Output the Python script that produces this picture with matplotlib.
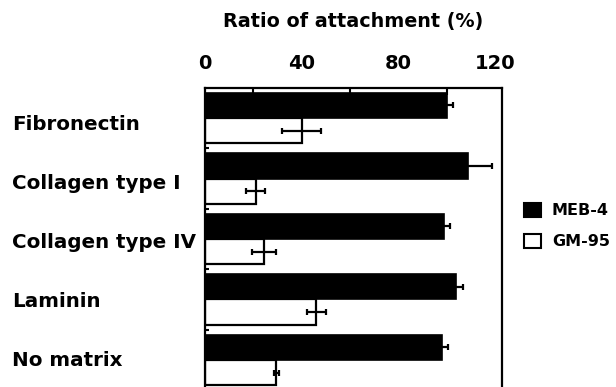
import numpy as np
import matplotlib.pyplot as plt
from matplotlib.patches import Patch

plt.rcParams['font.family'] = ['DejaVu Sans']
plt.rcParams['font.weight'] = 'bold'

categories = ['Fibronectin', 'Collagen type I', 'Collagen type IV', 'Laminin', 'No matrix']
meb4 = [100, 109, 99, 104, 98]
meb4_err = [2.5, 10, 2.5, 3, 2.5]
gm95 = [40, 21, 24.5, 46, 29.5]
gm95_err = [8, 4, 5, 4, 1]

fig = plt.figure(figsize=(6.16, 3.87), dpi=100)
ax = fig.add_axes([0.333, -0.005, 0.482, 0.778])

y = np.arange(len(categories))
h = 0.42
ax.barh(y - h / 2, meb4, height=h, color='black', edgecolor='black', linewidth=1.2,
        xerr=meb4_err, error_kw=dict(ecolor='black', elinewidth=1.6, capsize=2, capthick=1.6))
ax.barh(y + h / 2, gm95, height=h, color='white', edgecolor='black', linewidth=1.6,
        xerr=gm95_err, error_kw=dict(ecolor='black', elinewidth=1.6, capsize=2, capthick=1.6))

ax.set_xlim(0, 123)
ax.set_ylim(4.48, -0.5)

ax.xaxis.tick_top()
ax.set_xticks([0, 40, 80, 120])
ax.set_xticks(np.arange(0, 101, 20), minor=True)
ax.tick_params(axis='x', which='major', length=0, pad=11, labelsize=14)
ax.tick_params(axis='x', which='minor', direction='in', length=5, width=1.5, top=True, bottom=False)

ax.set_yticks(y)
ax.set_yticklabels([])
ax.tick_params(axis='y', which='major', length=0)
ax.set_yticks(y[:-1] + 0.5, minor=True)
ax.tick_params(axis='y', which='minor', direction='in', length=3, width=1.5)

for s in ax.spines.values():
    s.set_linewidth(1.6)

# category names sit left of the axes, one per group
for i, c in enumerate(categories):
    fig.text(12 / 616, 1 - (130 + 59 * i) / 387, c, fontsize=14.3, fontweight='bold',
             va='baseline', ha='left')

fig.text(353 / 616, 1 - 22 / 387, 'Ratio of attachment (%)', fontsize=13.8,
         fontweight='bold', ha='center', va='center')

handles = [Patch(facecolor='black', edgecolor='black', linewidth=1.5),
           Patch(facecolor='white', edgecolor='black', linewidth=1.5)]
fig.legend(handles, ['MEB-4', 'GM-95'], loc='center left', bbox_to_anchor=(524 / 616, 1 - 226 / 387),
           frameon=False, prop=dict(size=11.5, weight='bold'), handlelength=1.05, handleheight=1.05,
           handletextpad=0.7, labelspacing=0.95, borderpad=0, borderaxespad=0)

fig.savefig('out.png', dpi=100)
